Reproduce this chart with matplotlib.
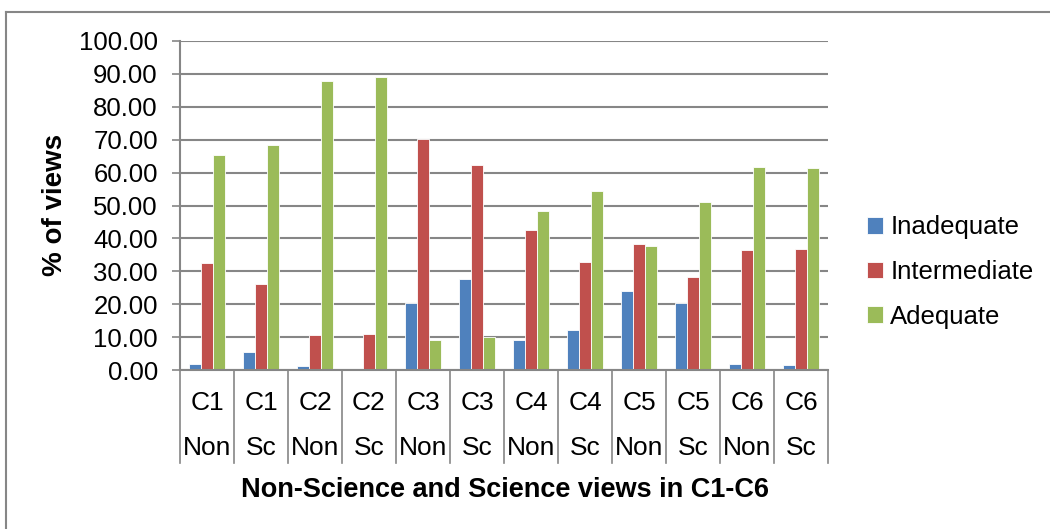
import numpy as np
import matplotlib.pyplot as plt
from matplotlib.lines import Line2D
import matplotlib.transforms as mtransforms

plt.rcParams['font.family'] = ['Liberation Sans', 'DejaVu Sans']

courses = ['C1', 'C1', 'C2', 'C2', 'C3', 'C3', 'C4', 'C4', 'C5', 'C5', 'C6', 'C6']
groups = ['Non', 'Sc', 'Non', 'Sc', 'Non', 'Sc', 'Non', 'Sc', 'Non', 'Sc', 'Non', 'Sc']
inadequate = [1.9, 5.4, 1.1, 0.0, 20.5, 27.6, 9.0, 12.1, 23.9, 20.4, 1.8, 1.6]
intermediate = [32.6, 26.0, 10.7, 10.9, 70.3, 62.3, 42.5, 32.9, 38.3, 28.3, 36.4, 36.8]
adequate = [65.3, 68.4, 87.8, 89.0, 9.0, 10.0, 48.3, 54.5, 37.6, 51.0, 61.6, 61.3]
series = ['Inadequate', 'Intermediate', 'Adequate']
colors = ['#4F81BD', '#C0504D', '#9BBB59']

W, H = 1050, 529
fig = plt.figure(figsize=(W / 100, H / 100), dpi=100)
ax = fig.add_axes([180 / W, (H - 370) / H, 648 / W, 329 / H])

x = np.arange(len(courses))
bw = 0.222
for i, (vals, c, lab) in enumerate(zip([inadequate, intermediate, adequate], colors, series)):
    ax.bar(x + (i - 1) * bw, vals, width=bw, color=c, label=lab,
           edgecolor='white', linewidth=0.6)

gray = '#868686'
ax.set_xlim(-0.5, len(courses) - 0.5)
ax.set_ylim(0, 100)
ax.set_yticks(np.arange(0, 101, 10))
ax.set_yticklabels([f'{v:.2f}' for v in range(0, 101, 10)], fontsize=18.5)
ax.yaxis.grid(True, color=gray, linewidth=1.5)
ax.set_axisbelow(True)
ax.tick_params(axis='y', length=6, width=1.2, color=gray, pad=10)
ax.set_xticks([])
for s in ['top', 'right']:
    ax.spines[s].set_visible(False)
ax.spines['left'].set_color(gray)
ax.spines['bottom'].set_color(gray)
ax.spines['left'].set_linewidth(1.5)
ax.spines['bottom'].set_linewidth(1.5)

# two-level category axis
narrow = ['Liberation Sans Narrow', 'Liberation Sans', 'DejaVu Sans']
trans = mtransforms.blended_transform_factory(ax.transData, ax.transAxes)
for b in np.arange(-0.5, len(courses), 1.0):
    ax.add_line(Line2D([b, b], [0, -0.283], transform=trans, color=gray,
                       linewidth=1.2, clip_on=False))
for xi, c, g in zip(x, courses, groups):
    ax.text(xi, -0.10, c, transform=trans, ha='center', va='center',
            fontsize=19, family=narrow)
    ax.text(xi, -0.237, g, transform=trans, ha='center', va='center',
            fontsize=19, family=narrow)

fig.text(505 / W, 1 - 490 / H, 'Non-Science and Science views in C1-C6',
         ha='center', va='center', fontsize=19.5, fontweight='bold')
fig.text(55 / W, 1 - 205 / H, '% of views', rotation=90,
         ha='center', va='center', fontsize=20, fontweight='bold')

ax.legend(loc='center left', bbox_to_anchor=(857 / W, 1 - 272 / H),
          bbox_transform=fig.transFigure, frameon=False, fontsize=18.5,
          handlelength=0.6, handleheight=0.6, handletextpad=0.3,
          labelspacing=0.8, borderaxespad=0)

# outer chart frame (top and left visible)
fig.add_artist(Line2D([6 / W, 1], [1 - 12 / H, 1 - 12 / H], transform=fig.transFigure,
                      color=gray, linewidth=1.5))
fig.add_artist(Line2D([6 / W, 6 / W], [0, 1 - 12 / H], transform=fig.transFigure,
                      color=gray, linewidth=1.5))

fig.savefig('out.png', dpi=100)
